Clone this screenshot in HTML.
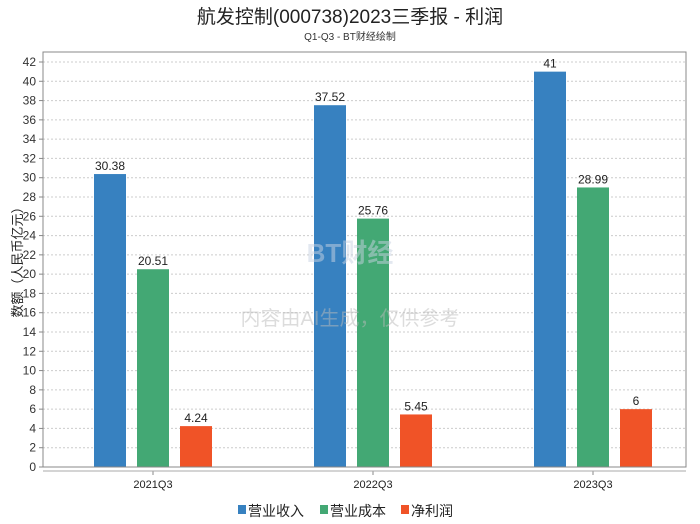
<!DOCTYPE html>
<html><head><meta charset="utf-8"><style>
body{margin:0;background:#fff;}
svg{display:block;font-family:"Liberation Sans","Noto Sans CJK SC",sans-serif;}
</style></head><body>
<svg id="chart" width="700" height="524">
<text x="350" y="23" text-anchor="middle" font-size="19" fill="#222">航发控制(000738)2023三季报 - 利润</text>
<text x="350" y="40" text-anchor="middle" font-size="10" fill="#333">Q1-Q3 - BT财经绘制</text>
<g id="grid"></g>
<g id="bars"></g>
<text x="350" y="262" text-anchor="middle" font-size="26" fill="#c8d3e3" opacity="0.5" font-weight="bold">BT财经</text>
<text x="350" y="325" text-anchor="middle" font-size="20" fill="#bbb" opacity="0.5">内容由AI生成，仅供参考</text>
<rect x="43" y="52" width="643" height="415" fill="none" stroke="#888"/>
<line x1="43" y1="471" x2="686" y2="471" stroke="#aaa"/>
<text transform="translate(22,259) rotate(-90)" text-anchor="middle" font-size="13" fill="#222">数额（人民币亿元）</text>
<g font-size="14" fill="#222">
<rect x="238" y="505" width="8" height="9" fill="#3781c0"/>
<text x="248" y="516">营业收入</text>
<rect x="320" y="505" width="8" height="9" fill="#43a874"/>
<text x="330" y="516">营业成本</text>
<rect x="401" y="505" width="8" height="9" fill="#f05327"/>
<text x="411" y="516">净利润</text>
</g>
</svg>
<script>
const categories=["2021Q3","2022Q3","2023Q3"];
const revenue=[30.38,37.52,41];
const cost=[20.51,25.76,28.99];
const profit=[4.24,5.45,6];
const yTicks=[0,2,4,6,8,10,12,14,16,18,20,22,24,26,28,30,32,34,36,38,40,42];
const NS="http://www.w3.org/2000/svg";
const y0=467,yTop=62,yMax=42;
function y(v){return y0-(v/yMax)*(y0-yTop);}
function xc(i){return 43+110+i*220;}
function mk(tag,attrs,parent){const e=document.createElementNS(NS,tag);for(const k in attrs)e.setAttribute(k,attrs[k]);parent.appendChild(e);return e;}
const grid=document.getElementById('grid'),bars=document.getElementById('bars');
yTicks.forEach(t=>{
 const l=mk('line',{x1:43,x2:686,y1:y(t),y2:y(t),stroke:'#ccc','stroke-dasharray':'2,2'},grid);
 
 
 const tk=mk('line',{x1:39,x2:43,y1:y(t),y2:y(t),stroke:'#888'},grid);
 
 
 const tx=mk('text',{x:36,y:y(t)+4,'text-anchor':'end','font-size':12,fill:'#333'},grid);
 tx.textContent=t;
 
 
});
const series=[[revenue,'#3781c0',-43,'revenue'],[cost,'#43a874',0,'cost'],[profit,'#f05327',43,'profit']];
categories.forEach((c,i)=>{
 const tx=mk('text',{x:xc(i),y:488,'text-anchor':'middle','font-size':11,fill:'#222'},grid);
 tx.textContent=c;
 
 
 const tk=mk('line',{x1:xc(i),x2:xc(i),y1:471,y2:475,stroke:'#888'},grid);
 
 
 series.forEach(s=>{
  const v=s[0][i];
  const r=mk('rect',{x:xc(i)+s[2]-16,y:y(v),width:32,height:y0-y(v),fill:s[1]},bars);
  
  
  const lb=mk('text',{x:xc(i)+s[2],y:y(v)-4,'text-anchor':'middle','font-size':12,fill:'#222'},bars);
  lb.textContent=v;
  
  
 });
});
</script>
</body></html>
